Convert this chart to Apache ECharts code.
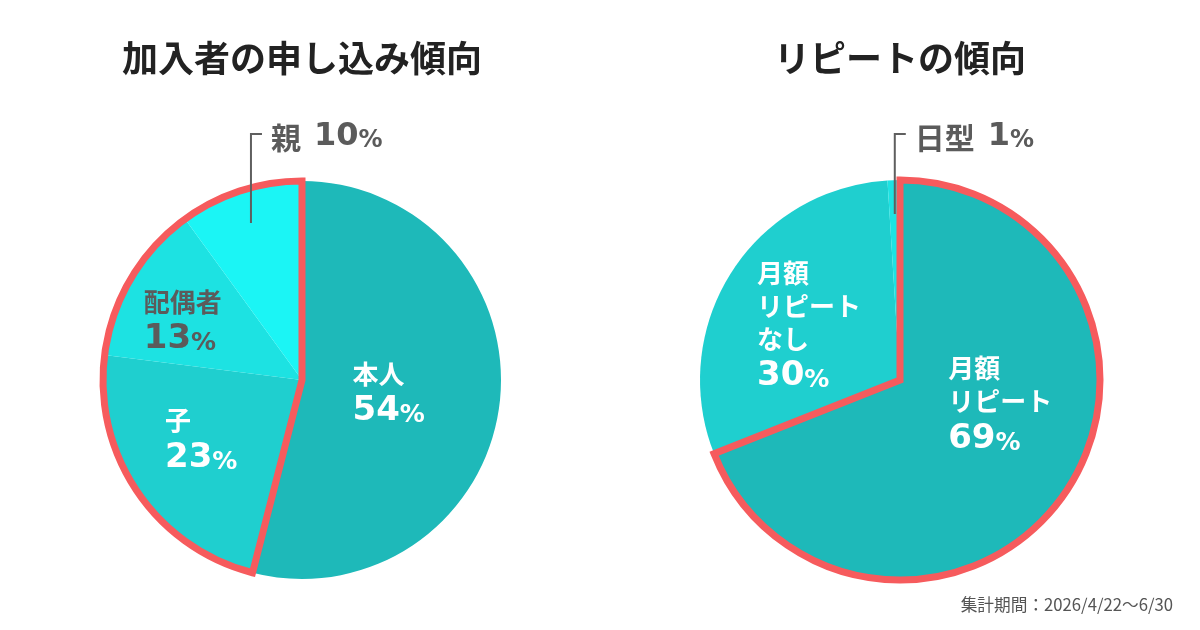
<!DOCTYPE html>
<html>
<head>
<meta charset="utf-8">
<style>
  html, body { margin: 0; padding: 0; background: #fff; }
  #container { width: 1200px; height: 630px; }
</style>
<script src="https://cdn.jsdelivr.net/npm/echarts@6/dist/echarts.min.js"></script>
</head>
<body>
<div id="container"></div>
<script>
// data
var leftTitle = '加入者の申し込み傾向';
var leftNames = ['本人', '子', '配偶者', '親'];
var leftValues = [54, 23, 13, 10];

var rightTitle = 'リピートの傾向';
var rightNames = ['月額\nリピート', '月額\nリピート\nなし', '日型'];
var rightValues = [69, 30, 1];

var footNote = '集計期間：2026/4/22〜6/30';

// styles
var leftColors = ['#1eb9b9', '#1fcfcf', '#1de2e2', '#1bf5f5'];
var rightColors = ['#1eb9b9', '#1fcfcf', '#1ce3e3'];
var leftTextColors = ['#fff', '#fff', '#5b5b5b', '#5b5b5b'];
var rightTextColors = ['#fff', '#fff', '#5b5b5b'];
var leftOffsets = [[-15, 0], [-16, 2], [-31, -7], null];   // null = leader label
var rightOffsets = [[15, -34], [-4, 0], null];
var red = '#f65b5d';
var CJK = 'Noto Sans CJK JP';
var NUM = 'DejaVu Sans';

var leftCenter = [302, 380], leftR = 199;
var rightCenter = [900, 380], rightR = 200;
var leaderTop = 134;
var leaderFrac = 0.83;

var dom = document.getElementById('container');
var myChart = echarts.init(dom);

var rich = {
    name: { fontFamily: CJK, fontSize: 26, fontWeight: 'bold', lineHeight: 33, align: 'left' },
    num: { fontFamily: NUM, fontSize: 34, fontWeight: 'bold', lineHeight: 38, verticalAlign: 'bottom', align: 'left' },
    pct: { fontFamily: NUM, fontSize: 25, fontWeight: 'bold', lineHeight: 31, verticalAlign: 'bottom', align: 'left' },
    oname: { fontFamily: CJK, fontSize: 30, fontWeight: 'bold', lineHeight: 38, verticalAlign: 'bottom' },
    gap: { fontSize: 10, width: 13, lineHeight: 38 },
    onum: { fontFamily: NUM, fontSize: 32, fontWeight: 'bold', lineHeight: 38, verticalAlign: 'bottom' },
    opct: { fontFamily: NUM, fontSize: 24, fontWeight: 'bold', lineHeight: 32, verticalAlign: 'bottom' }
};

function labelText(name, value, outside) {
    if (outside) {
        return '{oname|' + name + '}{gap| }{onum|' + value + '}{opct|%}';
    }
    var lines = name.split('\n').map(function (s) { return '{name|' + s + '}'; });
    lines.push('{num|' + value + '}{pct|%}');
    return lines.join('\n');
}

function buildData(names, values, colors, textColors, offsets) {
    return names.map(function (n, i) {
        var outside = offsets[i] === null;
        return {
            name: n,
            value: values[i],
            itemStyle: { color: colors[i] },
            label: {
                position: outside ? 'outside' : 'inside',
                color: textColors[i],
                formatter: labelText(n, values[i], outside)
            },
            labelLine: { show: false }
        };
    });
}

// mid angle of slice i, clockwise from 12 o'clock
function midAngle(values, i) {
    var total = 0, before = 0;
    for (var k = 0; k < values.length; k++) {
        total += values[k];
        if (k < i) before += values[k];
    }
    return (before + values[i] / 2) / total * Math.PI * 2;
}

// start of leader line, inside the slice
function leaderStart(values, i, center, r) {
    var a = midAngle(values, i);
    return [center[0] + leaderFrac * r * Math.sin(a), center[1] - leaderFrac * r * Math.cos(a)];
}

function makeLayout(values, offsets, center, r) {
    return function (params) {
        var i = params.dataIndex;
        var off = offsets[i];
        if (off) {
            return { dx: off[0], dy: off[1] };
        }
        var s = leaderStart(values, i, center, r);
        return { x: s[0] + 20, y: leaderTop, align: 'left', verticalAlign: 'middle' };
    };
}

function leaderLines(values, offsets, center, r) {
    var out = [];
    offsets.forEach(function (off, i) {
        if (off !== null) return;
        var s = leaderStart(values, i, center, r);
        out.push({
            type: 'polyline',
            z: 100,
            silent: true,
            shape: { points: [s, [s[0], leaderTop], [s[0] + 11, leaderTop]] },
            style: { stroke: '#5f5f5f', lineWidth: 2, fill: 'none' }
        });
    });
    return out;
}

function mainPie(names, values, colors, textColors, offsets, center, r) {
    return {
        type: 'pie',
        center: center,
        radius: r,
        startAngle: 90,
        clockwise: true,
        avoidLabelOverlap: false,
        silent: true,
        label: { show: true, rich: rich },
        labelLayout: makeLayout(values, offsets, center, r),
        data: buildData(names, values, colors, textColors, offsets)
    };
}

// red outline drawn round a group of slices
function outlinePie(first, rest, outlineFirst, center, r) {
    var on = { color: 'transparent', borderColor: red, borderWidth: 7, borderJoin: 'miter' };
    var off = { color: 'transparent', borderWidth: 0 };
    return {
        type: 'pie',
        center: center,
        radius: r,
        startAngle: 90,
        silent: true,
        label: { show: false },
        labelLine: { show: false },
        data: [
            { value: first, itemStyle: outlineFirst ? on : off },
            { value: rest, itemStyle: outlineFirst ? off : on }
        ]
    };
}

function sum(arr) {
    return arr.reduce(function (a, b) { return a + b; }, 0);
}

var titleStyle = { fontFamily: CJK, fontSize: 36, fontWeight: 'bold', color: '#222', lineHeight: 40 };

var option = {
    animation: false,
    title: [
        { text: leftTitle, left: leftCenter[0], top: 38, textAlign: 'center', padding: 0, textStyle: titleStyle },
        { text: rightTitle, left: rightCenter[0], top: 38, textAlign: 'center', padding: 0, textStyle: titleStyle },
        {
            text: footNote, right: 27, top: 595, padding: 0,
            textStyle: { fontFamily: CJK, fontSize: 16.7, fontWeight: 'normal', color: '#555', lineHeight: 20 }
        }
    ],
    graphic: leaderLines(leftValues, leftOffsets, leftCenter, leftR)
        .concat(leaderLines(rightValues, rightOffsets, rightCenter, rightR)),
    series: [
        mainPie(leftNames, leftValues, leftColors, leftTextColors, leftOffsets, leftCenter, leftR),
        outlinePie(leftValues[0], sum(leftValues.slice(1)), false, leftCenter, leftR),
        mainPie(rightNames, rightValues, rightColors, rightTextColors, rightOffsets, rightCenter, rightR),
        outlinePie(rightValues[0], sum(rightValues.slice(1)), true, rightCenter, rightR)
    ]
};

myChart.setOption(option);
</script>
</body>
</html>
